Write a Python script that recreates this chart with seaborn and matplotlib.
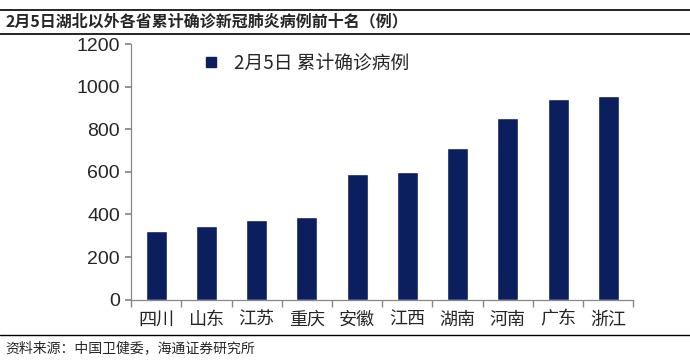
import numpy as np
import pandas as pd
import seaborn as sns
import matplotlib.pyplot as plt
from matplotlib.lines import Line2D
from matplotlib.ticker import FixedLocator

provinces = ["四川", "山东", "江苏", "重庆", "安徽", "江西", "湖南", "河南", "广东", "浙江"]
cases = [321, 347, 373, 389, 591, 600, 711, 851, 944, 954]
series_name = "2月5日 累计确诊病例"
title = "2月5日湖北以外各省累计确诊新冠肺炎病例前十名（例）"
source = "资料来源：中国卫健委，海通证券研究所"

df = pd.DataFrame({"province": provinces, "cases": cases})

sns.set_theme(style="white")
plt.rcParams['font.family'] = ['Noto Sans CJK SC', 'DejaVu Sans']
navy = "#0b1f5e"

fig = plt.figure(figsize=(6.9, 3.61), dpi=100)
ax = fig.add_axes([0.19, 0.17, 0.728, 0.708])

sns.barplot(data=df, x="province", y="cases", color=navy, width=0.42, ax=ax, saturation=1)

ax.set_ylim(0, 1200)
ax.set_yticks(np.arange(0, 1201, 200))
ax.set_xlim(-0.5, len(provinces) - 0.5)
ax.set_xlabel("")
ax.set_ylabel("")
for s in ["top", "right"]:
    ax.spines[s].set_visible(False)
for s in ["left", "bottom"]:
    ax.spines[s].set_color("#888888")
    ax.spines[s].set_linewidth(0.9)

ax.tick_params(axis="y", direction="out", length=4, color="#888888", labelsize=14, pad=4, left=True)
ax.tick_params(axis="x", which="major", length=0, labelsize=13, pad=8)
ax.xaxis.set_minor_locator(FixedLocator(np.arange(-0.5, len(provinces), 1.0)))
ax.tick_params(axis="x", which="minor", direction="out", length=5, color="#888888", bottom=True)
for lbl in ax.get_yticklabels():
    lbl.set_family(['Liberation Sans', 'DejaVu Sans'])

handle = Line2D([], [], marker="s", linestyle="none", color=navy, markersize=7)
ax.legend([handle], [series_name], loc="upper left", bbox_to_anchor=(0.1, 1.01),
          frameon=False, fontsize=13.5, handletextpad=0.2, borderaxespad=0.2)

# header and footer rules
fig.add_artist(Line2D([0, 1], [0.972, 0.972], color="black", lw=1.2, transform=fig.transFigure))
fig.add_artist(Line2D([0, 1], [0.906, 0.906], color="black", lw=1.2, transform=fig.transFigure))
fig.add_artist(Line2D([0, 1], [0.072, 0.072], color="black", lw=1.0, transform=fig.transFigure))
fig.text(0.008, 0.94, title, fontsize=11.5, fontweight="bold", va="center", ha="left")
fig.text(0.008, 0.035, source, fontsize=10, va="center", ha="left")

fig.savefig("out.png", dpi=100)
